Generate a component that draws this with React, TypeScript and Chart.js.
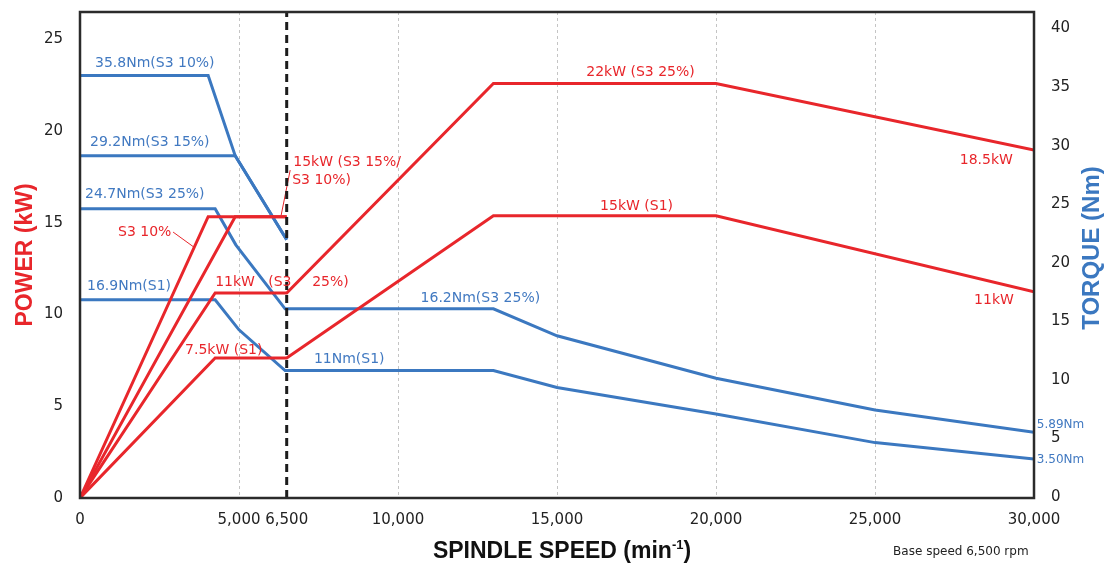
import React, { useEffect, useRef } from 'react';
import { Chart, registerables } from 'chart.js';

Chart.register(...registerables);

const RED = '#e8262b';
const BLUE = '#3b78c0';
const BLUE_TEXT = '#4179c1';
const LABEL_FONT = '"DejaVu Sans", sans-serif';
const TITLE_FONT = '"Liberation Sans", Arial, sans-serif';

// Axis ticks
const speedTicks = [0, 5000, 6500, 10000, 15000, 20000, 25000, 30000];
const gridSpeeds = [5000, 10000, 15000, 20000, 25000];
const powerTicks = [0, 5, 10, 15, 20, 25];
const torqueTicks = [0, 5, 10, 15, 20, 25, 30, 35, 40];
const speedMax = 30000;
const powerMax = 26.5;
const torqueMax = 41.5;

// Base speed marker
const baseRpm = [6500, 6500];
const baseKw = [0, 26.5];

// Power curves (kW)
const s3_10Rpm = [0, 4030, 6500];
const s3_10Kw = [0, 15.34, 15.34];
const s3_15Rpm = [0, 4880, 6500];
const s3_15Kw = [0, 15.34, 15.34];
const s3_25Rpm = [0, 4250, 6500, 13000, 20000, 30000];
const s3_25Kw = [0, 11.18, 11.18, 22.6, 22.6, 18.97];
const s1Rpm = [0, 4250, 6500, 13000, 20000, 30000];
const s1Kw = [0, 7.63, 7.63, 15.39, 15.39, 11.25];

// Leader lines for power labels
const leaderARpm = [6327, 6610];
const leaderAKw = [15.43, 17.88];
const leaderBRpm = [2927, 3590];
const leaderBKw = [14.5, 13.67];

// Torque curves (Nm)
const tq10Rpm = [0, 4030, 4880, 6500];
const tq10Nm = [36.07, 36.07, 29.23, 22.05];
const tq15Rpm = [0, 4880, 6500];
const tq15Nm = [29.23, 29.23, 22.05];
const tq25Rpm = [0, 4250, 4900, 6450, 13000, 15000, 20000, 25000, 30000];
const tq25Nm = [24.7, 24.7, 21.62, 16.15, 16.15, 13.85, 10.23, 7.52, 5.62];
const tqS1Rpm = [0, 4250, 5000, 6450, 13000, 15000, 20000, 25000, 30000];
const tqS1Nm = [16.92, 16.92, 14.36, 10.88, 10.88, 9.43, 7.18, 4.73, 3.33];

// Text annotations
const labelTexts = [
  '35.8Nm(S3 10%)', '29.2Nm(S3 15%)', '24.7Nm(S3 25%)', '16.9Nm(S1)', '16.2Nm(S3 25%)', '11Nm(S1)', '5.89Nm', '3.50Nm',
  '15kW (S3 15%/', 'S3 10%)', 'S3 10%', '11kW', '(S3', '25%)', '7.5kW (S1)', '22kW (S3 25%)', '15kW (S1)', '18.5kW', '11kW',
];
const labelRpm = [472, 315, 157, 220, 12590, 8467, 30090, 30090, 6705, 6673, 1196, 4250, 5918, 7302, 3305, 17627, 17501, 29336, 29367];
const labelVal = [37.1, 30.34, 25.9, 18.03, 17.09, 11.8, 6.24, 3.25, 18.32, 17.34, 14.5, 11.78, 11.78, 11.78, 8.07, 23.19, 15.92, 18.43, 10.8];
const labelAxis = ['yT', 'yT', 'yT', 'yT', 'yT', 'yT', 'yT', 'yT', 'yP', 'yP', 'yP', 'yP', 'yP', 'yP', 'yP', 'yP', 'yP', 'yP', 'yP'];
const labelAlign = ['left', 'left', 'left', 'left', 'center', 'center', 'left', 'left', 'left', 'left', 'left', 'left', 'left', 'left', 'left', 'center', 'center', 'right', 'right'];
const labelSize = [14, 14, 14, 14, 14, 14, 12, 12, 14, 14, 14, 14, 14, 14, 14, 14, 14, 14, 14];

const pts = (xs: number[], ys: number[]) => xs.map((x, i) => ({ x, y: ys[i] }));

const lineDs = (xs: number[], ys: number[], axis: string, color: string, width = 3, dash: number[] = []) => ({
  type: 'line' as const,
  data: pts(xs, ys),
  yAxisID: axis,
  borderColor: color,
  backgroundColor: color,
  borderWidth: width,
  borderDash: dash,
  pointRadius: 0,
  fill: false,
  tension: 0,
  borderJoinStyle: 'miter' as const,
});

const framePlugin = {
  id: 'frame',
  afterDatasetsDraw(chart: any) {
    const { ctx, chartArea: a } = chart;
    ctx.save();
    ctx.strokeStyle = '#2b2b2b';
    ctx.lineWidth = 2.5;
    ctx.strokeRect(a.left, a.top, a.right - a.left, a.bottom - a.top);
    ctx.restore();
  },
};

const textPlugin = {
  id: 'texts',
  afterDraw(chart: any) {
    const { ctx, chartArea: a, scales } = chart;
    ctx.save();
    ctx.textBaseline = 'middle';
    labelTexts.forEach((t, i) => {
      const ax = labelAxis[i];
      ctx.fillStyle = ax === 'yT' ? BLUE_TEXT : RED;
      ctx.font = `${labelSize[i]}px ${LABEL_FONT}`;
      ctx.textAlign = labelAlign[i];
      ctx.fillText(t, scales.x.getPixelForValue(labelRpm[i]), scales[ax].getPixelForValue(labelVal[i]));
    });

    // Axis titles
    ctx.textAlign = 'center';
    ctx.save();
    ctx.translate(a.left - 54, 255);
    ctx.rotate(-Math.PI / 2);
    ctx.fillStyle = RED;
    ctx.font = `bold 23px ${TITLE_FONT}`;
    ctx.fillText('POWER (kW)', 0, 0);
    ctx.restore();

    ctx.save();
    ctx.translate(a.right + 58, 248);
    ctx.rotate(-Math.PI / 2);
    ctx.fillStyle = BLUE;
    ctx.font = `bold 24px ${TITLE_FONT}`;
    ctx.fillText('TORQUE (Nm)', 0, 0);
    ctx.restore();

    // X title with superscript
    ctx.fillStyle = '#111';
    const big = `bold 23px ${TITLE_FONT}`;
    const small = `bold 13px ${TITLE_FONT}`;
    const p1 = 'SPINDLE SPEED (min';
    const p2 = '-1';
    const p3 = ')';
    ctx.font = big;
    const w1 = ctx.measureText(p1).width;
    const w3 = ctx.measureText(p3).width;
    ctx.font = small;
    const w2 = ctx.measureText(p2).width;
    const total = w1 + w2 + w3;
    const cx = 562;
    const ty = a.bottom + 54;
    const x0 = cx - total / 2;
    ctx.textAlign = 'left';
    ctx.font = big;
    ctx.fillText(p1, x0, ty);
    ctx.font = small;
    ctx.fillText(p2, x0 + w1, ty - 7);
    ctx.font = big;
    ctx.fillText(p3, x0 + w1 + w2, ty);

    ctx.font = `12px ${LABEL_FONT}`;
    ctx.fillStyle = '#222';
    ctx.textAlign = 'center';
    ctx.fillText('Base speed 6,500 rpm', scales.x.getPixelForValue(27700), a.bottom + 54);
    ctx.restore();
  },
};

export default function App() {
  const ref = useRef<HTMLCanvasElement | null>(null);

  useEffect(() => {
    document.body.style.margin = '0';
    if (!ref.current) return;
    const chart = new Chart(ref.current, {
      type: 'line',
      data: {
        datasets: [
          lineDs(baseRpm, baseKw, 'yP', '#1c1c1c', 3, [8, 5]),
          lineDs(s3_10Rpm, s3_10Kw, 'yP', RED),
          lineDs(s3_15Rpm, s3_15Kw, 'yP', RED),
          lineDs(s3_25Rpm, s3_25Kw, 'yP', RED),
          lineDs(s1Rpm, s1Kw, 'yP', RED),
          lineDs(leaderARpm, leaderAKw, 'yP', RED, 1),
          lineDs(leaderBRpm, leaderBKw, 'yP', RED, 1),
          lineDs(tq10Rpm, tq10Nm, 'yT', BLUE),
          lineDs(tq15Rpm, tq15Nm, 'yT', BLUE),
          lineDs(tq25Rpm, tq25Nm, 'yT', BLUE),
          lineDs(tqS1Rpm, tqS1Nm, 'yT', BLUE),
        ] as any,
      },
      options: {
        responsive: false,
        animation: false,
        layout: { padding: { top: 12, left: 0, right: 0, bottom: 0 } },
        plugins: { legend: { display: false }, tooltip: { enabled: false } },
        scales: {
          x: {
            type: 'linear',
            min: 0,
            max: speedMax,
            afterBuildTicks: (s: any) => { s.ticks = speedTicks.map((v) => ({ value: v })); },
            afterFit: (s: any) => { s.height = 66; s.paddingLeft = 0; s.paddingRight = 0; },
            ticks: {
              autoSkip: false,
              maxRotation: 0,
              padding: 13,
              color: '#222',
              font: { family: LABEL_FONT, size: 15 },
              callback: (v: any) => Number(v).toLocaleString('en-US'),
            },
            grid: {
              drawTicks: false,
              lineWidth: 1,
              color: (c: any) => (c.tick && gridSpeeds.includes(c.tick.value) ? '#c4c4c4' : 'rgba(0,0,0,0)'),
            },
            border: { display: false, dash: [3, 3] },
          },
          yP: {
            type: 'linear',
            position: 'left',
            min: 0,
            max: powerMax,
            afterBuildTicks: (s: any) => { s.ticks = powerTicks.map((v) => ({ value: v })); },
            afterFit: (s: any) => { s.width = 80; s.paddingTop = 0; s.paddingBottom = 0; },
            grid: { display: false, drawTicks: false },
            border: { display: false },
            ticks: { padding: 17, color: '#222', font: { family: LABEL_FONT, size: 15 } },
          },
          yT: {
            type: 'linear',
            position: 'right',
            min: 0,
            max: torqueMax,
            afterBuildTicks: (s: any) => { s.ticks = torqueTicks.map((v) => ({ value: v })); },
            afterFit: (s: any) => { s.width = 73; s.paddingTop = 0; s.paddingBottom = 0; },
            grid: { display: false, drawTicks: false },
            border: { display: false },
            ticks: { padding: 17, labelOffset: -1, color: '#222', font: { family: LABEL_FONT, size: 15 } },
          },
        },
      } as any,
      plugins: [framePlugin, textPlugin],
    });
    return () => chart.destroy();
  }, []);

  return (
    <div style={{ width: 1107, height: 564, position: 'relative', background: '#fff' }}>
      <canvas ref={ref} width={1107} height={564} style={{ display: 'block' }} />
    </div>
  );
}
